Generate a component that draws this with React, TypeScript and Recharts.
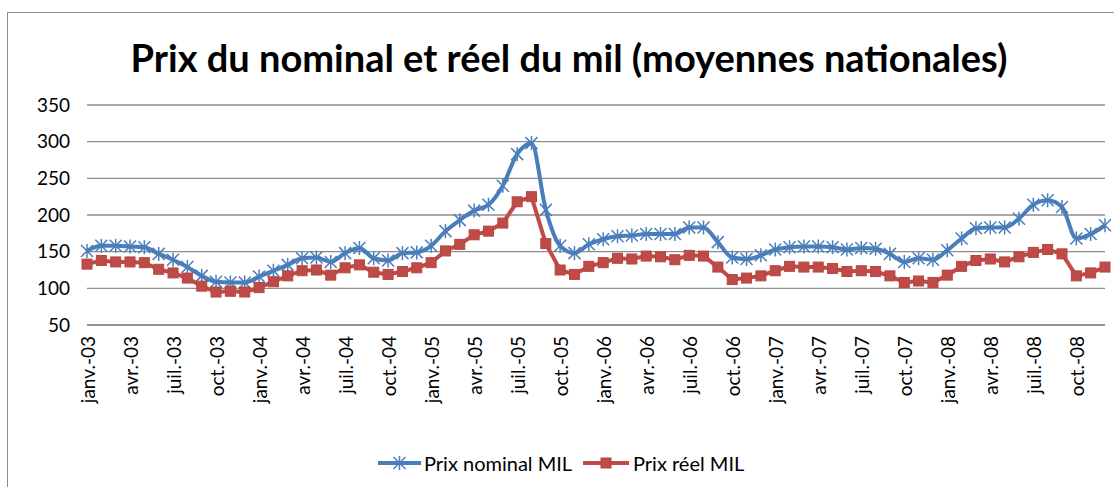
import { LineChart, Line, XAxis, YAxis, CartesianGrid } from 'recharts';

const monthNames = ['janv.', 'févr.', 'mars', 'avr.', 'mai', 'juin', 'juil.', 'août', 'sept.', 'oct.', 'nov.', 'déc.'];
const years = ['03', '04', '05', '06', '07', '08'];
const months = years.flatMap((y) => monthNames.map((m) => `${m}-${y}`));

// Prix nominal MIL, janv.-03 .. déc.-08
const nominal = [
  151, 158, 158, 157, 156, 147, 139, 129, 117, 109, 108, 108,
  116, 124, 132, 141, 142, 136, 148, 155, 141, 138, 148, 149,
  158, 178, 193, 206, 214, 240, 283, 298, 207, 158, 148, 160,
  167, 171, 172, 174, 174, 174, 183, 183, 163, 142, 140, 145,
  153, 156, 157, 157, 156, 153, 155, 154, 147, 136, 141, 139,
  152, 168, 182, 183, 183, 195, 214, 220, 211, 168, 174, 186,
];

// Prix réel MIL
const reel = [
  133, 138, 136, 136, 135, 126, 121, 114, 103, 95, 96, 95,
  101, 109, 117, 124, 125, 118, 128, 132, 122, 119, 123, 128,
  135, 151, 160, 173, 178, 189, 218, 225, 161, 125, 119, 130,
  135, 141, 140, 144, 143, 139, 145, 144, 129, 112, 114, 117,
  124, 130, 129, 129, 127, 123, 124, 123, 117, 108, 110, 108,
  118, 130, 138, 140, 136, 143, 149, 153, 147, 117, 121, 129,
];

const yTicks = [50, 100, 150, 200, 250, 300, 350];

const data = months.map((month, i) => ({ month, nominal: nominal[i], reel: reel[i] }));

const BLUE = '#4A7EBB';
const RED = '#BE4B48';
const FONT = 'Lato, "Open Sans", sans-serif';

function StarDot(props: any) {
  const { cx, cy, index } = props;
  if (cx == null || cy == null) return null;
  const r = 6;
  return (
    <g key={`star-${index}`} stroke={BLUE} strokeWidth={1.5}>
      <line x1={cx - r} y1={cy - r} x2={cx + r} y2={cy + r} />
      <line x1={cx - r} y1={cy + r} x2={cx + r} y2={cy - r} />
      <line x1={cx} y1={cy - r - 1} x2={cx} y2={cy + r + 1} />
    </g>
  );
}

function SquareDot(props: any) {
  const { cx, cy, index } = props;
  if (cx == null || cy == null) return null;
  return <rect key={`sq-${index}`} x={cx - 5} y={cy - 5} width={10} height={10} fill={RED} stroke="#B84541" />;
}

function MonthTick(props: any) {
  const { x, payload } = props;
  const ty = 336;
  return (
    <text
      x={x}
      y={ty}
      transform={`rotate(-90 ${x} ${ty})`}
      textAnchor="end"
      dominantBaseline="central"
      fill="#000"
      fontSize={19}
      fontFamily={FONT}
    >
      {payload.value}
    </text>
  );
}

function LegendBox() {
  return (
    <svg width={1114} height={30} style={{ position: 'absolute', left: 0, top: 448 }}>
      <line x1={378} y1={15} x2={421} y2={15} stroke={BLUE} strokeWidth={4} />
      <StarDot cx={399.5} cy={15} index={0} />
      <text x={424} y={15} dominantBaseline="central" fontSize={20} fontFamily={FONT} fill="#000">
        Prix nominal MIL
      </text>
      <line x1={583} y1={15} x2={629} y2={15} stroke={RED} strokeWidth={4} />
      <SquareDot cx={606} cy={15} index={0} />
      <text x={633} y={15} dominantBaseline="central" fontSize={20} fontFamily={FONT} fill="#000">
        Prix réel MIL
      </text>
    </svg>
  );
}

export default function App() {
  return (
    <div style={{ position: 'absolute', left: 0, top: 0, width: 1114, height: 487, background: '#fff', overflow: 'hidden' }}>
      <div
        style={{
          position: 'absolute',
          left: 7,
          top: 12,
          width: 1200,
          height: 600,
          borderLeft: '1px solid #8c8c8c',
          borderTop: '1px solid #8c8c8c',
        }}
      />
      <div
        style={{
          position: 'absolute',
          left: 0,
          top: 35,
          width: 1138,
          textAlign: 'center',
          fontFamily: FONT,
          fontWeight: 700,
          fontSize: 38,
          lineHeight: '44px',
          color: '#000',
        }}
      >
        Prix du nominal et réel du mil (moyennes nationales)
      </div>
      <div style={{ position: 'absolute', left: 0, top: 0 }}>
        <LineChart width={1114} height={487} data={data} margin={{ top: 105, right: 9, bottom: 132, left: 0 }}>
          <CartesianGrid vertical={false} stroke="#8c8c8c" strokeWidth={1.3} />
          <XAxis
            dataKey="month"
            interval={2}
            height={30}
            tick={<MonthTick />}
            tickLine={false}
            axisLine={{ stroke: '#8c8c8c', strokeWidth: 1.3 }}
          />
          <YAxis
            width={87}
            domain={[50, 350]}
            ticks={yTicks}
            tickLine={false}
            axisLine={false}
            tickMargin={11}
            tick={{ fill: '#000', fontSize: 19, fontFamily: FONT }}
          />
          <Line
            type="monotone"
            dataKey="nominal"
            stroke={BLUE}
            strokeWidth={4}
            dot={(p: any) => <StarDot {...p} key={`s${p.index}`} />}
            activeDot={false}
            isAnimationActive={false}
          />
          <Line
            type="linear"
            dataKey="reel"
            stroke={RED}
            strokeWidth={4}
            dot={(p: any) => <SquareDot {...p} key={`r${p.index}`} />}
            activeDot={false}
            isAnimationActive={false}
          />
        </LineChart>
      </div>
      <LegendBox />
    </div>
  );
}
